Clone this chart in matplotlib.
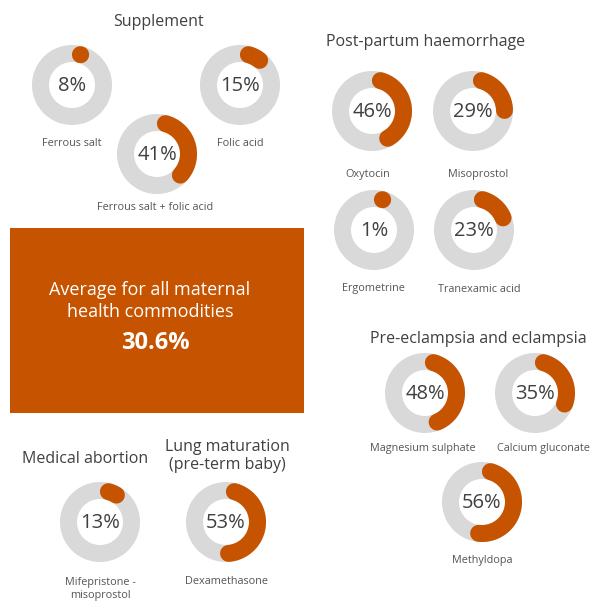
import math

import matplotlib
matplotlib.use('agg')
import matplotlib.pyplot as plt
from matplotlib.patches import Wedge, Rectangle

plt.rcParams['font.family'] = ['Open Sans', 'DejaVu Sans']

# data
commodities = ['Ferrous salt', 'Folic acid', 'Ferrous salt + folic acid',
               'Oxytocin', 'Misoprostol', 'Ergometrine', 'Tranexamic acid',
               'Magnesium sulphate', 'Calcium gluconate', 'Methyldopa',
               'Mifepristone -\nmisoprostol', 'Dexamethasone']
availability = [8, 15, 41, 46, 29, 1, 23, 48, 35, 56, 13, 53]
groups = ['Supplement', 'Post-partum haemorrhage', 'Pre-eclampsia and eclampsia',
          'Medical abortion', 'Lung maturation\n(pre-term baby)']
average_label = 'Average for all maternal\nhealth commodities'
average_value = 30.6

# layout (pixels, y down)
centers = [(72, 85), (240, 85), (157, 154),
           (372, 111), (473, 111), (374, 230), (474, 230),
           (425, 393), (535, 393), (482, 502),
           (100, 522), (226, 522)]
label_pos = [(72, 143), (240, 143), (155, 208),
             (368, 174), (478, 174), (373, 289), (479, 289),
             (423, 449), (543, 449), (482, 561),
             (100, 589), (226, 581)]
group_pos = [(158, 22), (426, 42), (478, 339), (85, 459), (227, 456)]

ORANGE = '#C65300'
GREY = '#D9D9D9'
DARK = '#404040'
LABEL = '#555555'
R_OUT = 40
THICK = 17

fig = plt.figure(figsize=(5.9, 6.01), dpi=100)
ax = fig.add_axes([0, 0, 1, 1])
ax.set_xlim(0, 590)
ax.set_ylim(601, 0)
ax.axis('off')

r_mid = R_OUT - THICK / 2
cap = math.degrees((THICK / 2) / r_mid)

for name, val, (cx, cy), (lx, ly) in zip(commodities, availability, centers, label_pos):
    ax.add_patch(Wedge((cx, cy), R_OUT, 0, 360, width=THICK, facecolor=GREY, edgecolor='none'))
    end = max(cap + 0.5, val / 100 * 360 - cap)
    n = 100
    thetas = [math.radians(cap + (end - cap) * i / n) for i in range(n + 1)]
    xs = [cx + r_mid * math.sin(t) for t in thetas]
    ys = [cy - r_mid * math.cos(t) for t in thetas]
    ax.plot(xs, ys, color=ORANGE, lw=THICK * 0.72, solid_capstyle='round')
    ax.text(cx, cy + 1, '{}%'.format(val), ha='center', va='center', fontsize=14.5, color=DARK)
    ax.text(lx, ly, name, ha='center', va='center', fontsize=7.8, color=LABEL, linespacing=1.3)

for g, (gx, gy) in zip(groups, group_pos):
    ax.text(gx, gy, g, ha='center', va='center', fontsize=11.5, color=DARK, linespacing=1.15)

ax.add_patch(Rectangle((10, 228), 294, 185, facecolor=ORANGE, edgecolor='none'))
ax.text(150, 301, average_label, ha='center', va='center', fontsize=13, color='white', linespacing=1.25)
ax.text(155, 343, '{}%'.format(average_value), ha='center', va='center', fontsize=17,
        color='white', fontweight='bold')

fig.savefig('out.png', dpi=100)
plt.close(fig)
